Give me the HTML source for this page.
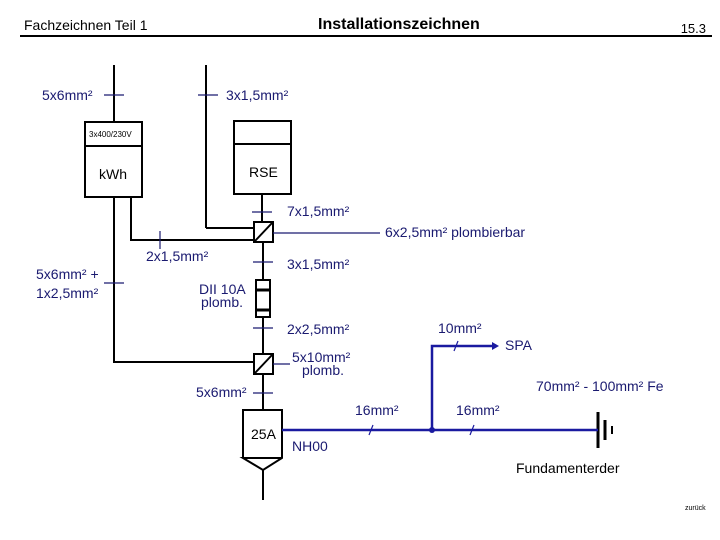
<!DOCTYPE html><html><head><meta charset="utf-8"><style>html,body{margin:0;padding:0;background:#fff}svg{display:block}text{font-family:"Liberation Sans",sans-serif}</style></head><body>
<svg width="720" height="540" viewBox="0 0 720 540" xmlns="http://www.w3.org/2000/svg">
<text x="24" y="30" font-size="14" fill="#000">Fachzeichnen Teil 1</text>
<text x="318" y="29" font-size="16" font-weight="bold" fill="#000">Installationszeichnen</text>
<text x="706" y="33" font-size="13" fill="#000" text-anchor="end">15.3</text>
<line x1="20" y1="36" x2="712" y2="36" stroke="#000" stroke-width="2"/>
<g stroke="#000" stroke-width="2" fill="none">
<line x1="114" y1="65" x2="114" y2="122"/>
<line x1="206" y1="65" x2="206" y2="228"/><line x1="206" y1="228" x2="254" y2="228"/>
<rect x="85" y="122" width="57" height="75"/><line x1="85" y1="146" x2="142" y2="146"/>
<rect x="234" y="121" width="57" height="73"/><line x1="234" y1="144" x2="291" y2="144"/>
<line x1="262" y1="194" x2="262" y2="222"/>
<rect x="254" y="222" width="19" height="20"/><line x1="255" y1="241" x2="272" y2="223"/>
<polyline points="131,197 131,240 254,240"/>
<polyline points="114,197 114,362 254,362"/>
<line x1="263" y1="242" x2="263" y2="280"/>
<rect x="256" y="280" width="14" height="37"/><line x1="256" y1="290" x2="270" y2="290" stroke-width="3"/><line x1="256" y1="310" x2="270" y2="310" stroke-width="3"/>
<line x1="263" y1="317" x2="263" y2="354"/>
<rect x="254" y="354" width="19" height="20"/><line x1="255" y1="373" x2="272" y2="355"/>
<line x1="263" y1="374" x2="263" y2="410"/>
<polyline points="243,458 243,410 282,410 282,458 263,470 243,458 282,458"/>
<line x1="263" y1="470" x2="263" y2="500"/>
<line x1="598" y1="412" x2="598" y2="448" stroke-width="3"/>
<line x1="605" y1="420" x2="605" y2="440" stroke-width="3"/>
<line x1="612" y1="426" x2="612" y2="434" stroke-width="2"/>
</g>
<g stroke="#1a1a70" stroke-width="1.2">
<line x1="104" y1="95" x2="124" y2="95"/><line x1="198" y1="95" x2="218" y2="95"/>
<line x1="252" y1="212" x2="272" y2="212"/>
<line x1="273" y1="233" x2="380" y2="233"/>
<line x1="160" y1="231" x2="160" y2="249"/>
<line x1="104" y1="283" x2="124" y2="283"/>
<line x1="253" y1="262" x2="273" y2="262"/>
<line x1="253" y1="328" x2="273" y2="328"/>
<line x1="273" y1="364" x2="290" y2="364"/>
<line x1="253" y1="393" x2="273" y2="393"/>
</g>
<g stroke="#1a1aa0" stroke-width="2.5" fill="none">
<line x1="282" y1="430" x2="598" y2="430"/>
<polyline points="432,430 432,346 494,346"/>
</g>
<polygon points="492,342 499,346 492,350" fill="#1a1aa0"/>
<circle cx="432" cy="430" r="3" fill="#1a1aa0"/>
<g stroke="#1a1aa0" stroke-width="1.2">
<line x1="454" y1="351" x2="458" y2="341"/><line x1="369" y1="435" x2="373" y2="425"/><line x1="470" y1="435" x2="474" y2="425"/>
</g>
<g font-size="14" fill="#1a1a70">
<text x="42" y="100">5x6mm²</text>
<text x="226" y="100">3x1,5mm²</text>
<text x="287" y="216">7x1,5mm²</text>
<text x="385" y="237">6x2,5mm² plombierbar</text>
<text x="146" y="261">2x1,5mm²</text>
<text x="287" y="269">3x1,5mm²</text>
<text x="36" y="279">5x6mm² +</text>
<text x="36" y="298">1x2,5mm²</text>
<text x="199" y="294">DII 10A</text>
<text x="201" y="307">plomb.</text>
<text x="287" y="334">2x2,5mm²</text>
<text x="438" y="333">10mm²</text>
<text x="505" y="350">SPA</text>
<text x="292" y="362">5x10mm²</text>
<text x="302" y="375">plomb.</text>
<text x="536" y="391">70mm² - 100mm² Fe</text>
<text x="196" y="397">5x6mm²</text>
<text x="355" y="415">16mm²</text>
<text x="456" y="415">16mm²</text>
<text x="292" y="451">NH00</text>
</g>
<g font-size="14" fill="#000">
<text x="89" y="137" font-size="8">3x400/230V</text>
<text x="99" y="179">kWh</text>
<text x="249" y="177">RSE</text>
<text x="251" y="439">25A</text>
<text x="516" y="473">Fundamenterder</text>
<text x="685" y="510" font-size="7">zurück</text>
</g>
</svg></body></html>
